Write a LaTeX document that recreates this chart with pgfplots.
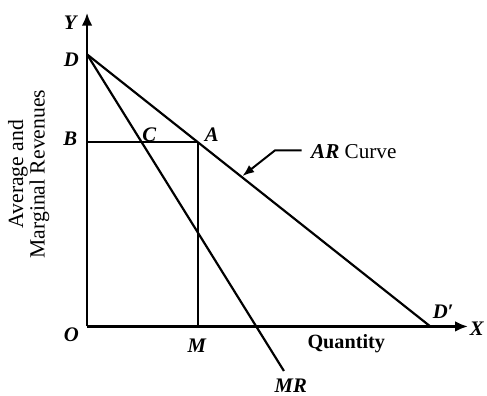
\documentclass[border=0pt]{standalone}
\usepackage{pgfplots}
\pgfplotsset{compat=1.18}
\usepackage{fontspec}
\setmainfont{Liberation Serif}
\usetikzlibrary{arrows.meta}
\tikzset{lbl/.style={font=\fontsize{21}{22}\selectfont\bfseries\itshape}}
\begin{document}
\begin{tikzpicture}
\begin{axis}[
  scale only axis, width=487bp, height=396bp,
  xmin=-88, xmax=399, ymin=-66, ymax=330,
  hide axis, clip=false,
]
% bounding box
\addplot[draw=none] coordinates {(-88,-66) (399,330)};
% axes
\addplot[line width=2.6bp, -{Latex[length=13bp,width=11bp]}] coordinates {(0,0) (0,317)};
\addplot[line width=2.6bp, -{Latex[length=13bp,width=11bp]}] coordinates {(0,0) (385,0)};
% AR curve
\addplot[line width=2.2bp] coordinates {(0,275) (347,0)};
% MR curve
\addplot[line width=2.2bp] coordinates {(0,275) (199,-45)};
% B-A and A-M
\addplot[line width=2bp] coordinates {(0,186) (112,186)};
\addplot[line width=2bp] coordinates {(112,186) (112,0)};
% leader arrow
\addplot[line width=2bp, -{Latex[length=12bp,width=9bp]}] coordinates {(217,178) (190,178) (157,152)};
% labels
\node[lbl] at (axis cs:-17,307) {Y};
\node[lbl] at (axis cs:-16,270) {D};
\node[lbl] at (axis cs:-17,190) {B};
\node[lbl] at (axis cs:63,194) {C};
\node[lbl] at (axis cs:126,194) {A};
\node[lbl] at (axis cs:-16,-8) {O};
\node[lbl] at (axis cs:111,-19) {M};
\node[lbl] at (axis cs:206,-60) {MR};
\node[lbl] at (axis cs:360,15) {D′};
\node[lbl] at (axis cs:394,-2) {X};
\node[font=\fontsize{20.5}{22}\selectfont\bfseries] at (axis cs:262,-17) {Quantity};
\node[anchor=west, font=\fontsize{21.5}{22}\selectfont] at (axis cs:223,177) {\textbf{\textit{AR}} Curve};
\node[rotate=90, align=center, font=\fontsize{22}{22}\selectfont] at (axis cs:-59,154) {Average and\\Marginal Revenues};
\end{axis}
\end{tikzpicture}
\end{document}
